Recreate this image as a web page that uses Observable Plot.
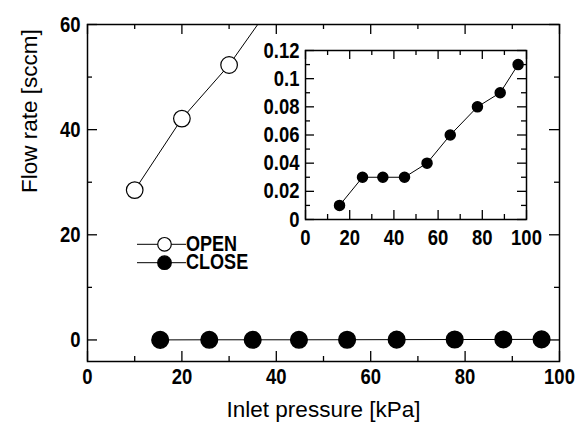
<!DOCTYPE html>
<html><head><meta charset="utf-8">
<script src="https://cdn.jsdelivr.net/npm/d3@7"></script>
<script src="https://cdn.jsdelivr.net/npm/@observablehq/plot@0.6"></script>
<style>
body{margin:0;background:#fff}
#wrap{position:relative;width:584px;height:428px}
#wrap svg{position:absolute;left:0;top:0}
</style></head><body><div id="wrap"></div>
<script>
// data
const pressureOpen = [10, 20, 30, 40];
const flowOpen = [28.5, 42.1, 52.3, 65];
const pressureClose = [15.4, 25.8, 35, 44.8, 55, 65.5, 77.8, 88.1, 96.2];
const flowClose = [0.01, 0.03, 0.03, 0.03, 0.04, 0.06, 0.08, 0.09, 0.11];
const xTicks = [0, 20, 40, 60, 80, 100];
const xMinor = [10, 30, 50, 70, 90];
const yTicks = [0, 20, 40, 60];
const yMinor = [10, 30, 50];
const insetYTicks = [0, 0.02, 0.04, 0.06, 0.08, 0.1, 0.12];
const insetYMinor = [0.01, 0.03, 0.05, 0.07, 0.09, 0.11];
const legendLabels = ["OPEN", "CLOSE"];
const xLabel = "Inlet pressure [kPa]";
const yLabel = "Flow rate [sccm]";

const openData = pressureOpen.map((x, i) => ({x, y: flowOpen[i]}));
const closeData = pressureClose.map((x, i) => ({x, y: flowClose[i]}));
const FONT = '"Liberation Sans",Arial,sans-serif';
const SQ = 0.84; // horizontal condensing of bold labels
const TF = 22;   // bold label font size

const W = 584, H = 428;
const m = {top: 24, right: 25, bottom: 67, left: 87};
const iw = W - m.left - m.right, ih = H - m.top - m.bottom;
const MJ = 10, MN = 5;

function ticks(xs, xm, ys, ym, iw, ih, MJ, MN) {
  return [
    Plot.ruleX(xs, {x: d => d, insetTop: ih - MJ, strokeWidth: 1.3}),
    Plot.ruleX(xs, {x: d => d, insetBottom: ih - MJ, strokeWidth: 1.3}),
    Plot.ruleX(xm, {x: d => d, insetTop: ih - MN, strokeWidth: 1.3}),
    Plot.ruleX(xm, {x: d => d, insetBottom: ih - MN, strokeWidth: 1.3}),
    Plot.ruleY(ys, {y: d => d, insetRight: iw - MJ, strokeWidth: 1.3}),
    Plot.ruleY(ys, {y: d => d, insetLeft: iw - MJ, strokeWidth: 1.3}),
    Plot.ruleY(ym, {y: d => d, insetRight: iw - MN, strokeWidth: 1.3}),
    Plot.ruleY(ym, {y: d => d, insetLeft: iw - MN, strokeWidth: 1.3})
  ];
}

const main = Plot.plot({
  width: W, height: H,
  marginTop: m.top, marginRight: m.right, marginBottom: m.bottom, marginLeft: m.left,
  style: {fontFamily: FONT, fontSize: TF + "px", fontWeight: "bold", background: "white", color: "black", overflow: "visible"},
  x: {domain: [0, 100]},
  y: {domain: [-4.1, 60]},
  marks: [
    ...ticks(xTicks, xMinor, yTicks, yMinor, iw, ih, MJ, MN),
    Plot.line(openData, {x: "x", y: "y", stroke: "black", strokeWidth: 1, clip: true}),
    Plot.dot(openData, {x: "x", y: "y", r: 8.3, fill: "white", stroke: "black", strokeWidth: 1.2, clip: true}),
    Plot.line(closeData, {x: "x", y: "y", stroke: "black", strokeWidth: 1}),
    Plot.dot(closeData, {x: "x", y: "y", r: 8.3, fill: "black", stroke: "black"}),
    Plot.frame({stroke: "black", strokeWidth: 1.5}),
    Plot.axisX(xTicks, {tickSize: 0, tickPadding: 7, label: null, fontSize: TF, fontWeight: "bold"}),
    Plot.axisY(yTicks, {tickSize: 0, tickPadding: 7, label: null, fontSize: TF, fontWeight: "bold"}),
    Plot.text([xLabel], {text: d => d, frameAnchor: "bottom", dy: 55, fontSize: 22.5, fontWeight: "normal"}),
    Plot.text([yLabel], {text: d => d, frameAnchor: "left", dx: -58, rotate: -90, fontSize: 22.5, fontWeight: "normal"})
  ]
});

const im = {top: 50, right: 58, bottom: 209, left: 305};
const iiw = W - im.left - im.right, iih = H - im.top - im.bottom;
const inset = Plot.plot({
  width: W, height: H,
  marginTop: im.top, marginRight: im.right, marginBottom: im.bottom, marginLeft: im.left,
  style: {fontFamily: FONT, fontSize: TF + "px", fontWeight: "bold", background: "transparent", color: "black", overflow: "visible"},
  x: {domain: [0, 100]},
  y: {domain: [0, 0.12]},
  marks: [
    Plot.frame({fill: "white"}),
    ...ticks(xTicks, xMinor, insetYTicks, insetYMinor, iiw, iih, 9, 5),
    Plot.line(closeData, {x: "x", y: "y", stroke: "black", strokeWidth: 1}),
    Plot.dot(closeData, {x: "x", y: "y", r: 5, fill: "black", stroke: "black"}),
    Plot.frame({stroke: "black", strokeWidth: 1.5}),
    Plot.axisX(xTicks, {tickSize: 0, tickPadding: 10, label: null, fontSize: TF, fontWeight: "bold"}),
    Plot.axisY(insetYTicks, {tickSize: 0, tickPadding: 6, label: null, fontSize: TF, fontWeight: "bold", tickFormat: d => String(d)})
  ]
});

function condense(svg, s) {
  svg.querySelectorAll('[aria-label$="tick label"] text').forEach(t => {
    const tr = t.getAttribute("transform") || "";
    const x = +t.getAttribute("x") || 0, y = +t.getAttribute("y") || 0;
    t.setAttribute("transform", `${tr} translate(${x},${y}) scale(${s},1) translate(${-x},${-y})`);
  });
}
condense(main, SQ);
condense(inset, SQ);

const wrap = document.getElementById("wrap");
wrap.appendChild(main);
wrap.appendChild(inset);

// legend
const ns = "http://www.w3.org/2000/svg";
const leg = document.createElementNS(ns, "svg");
leg.setAttribute("width", W); leg.setAttribute("height", H);
leg.style.pointerEvents = "none";
const rows = [{y: 244.3, fill: "white"}, {y: 262.7, fill: "black"}];
legendLabels.forEach((lab, i) => {
  const r = rows[i];
  const ln = document.createElementNS(ns, "line");
  ln.setAttribute("x1", 137); ln.setAttribute("x2", 186);
  ln.setAttribute("y1", r.y); ln.setAttribute("y2", r.y);
  ln.setAttribute("stroke", "black"); ln.setAttribute("stroke-width", 1);
  leg.appendChild(ln);
  const c = document.createElementNS(ns, "circle");
  c.setAttribute("cx", 164.5); c.setAttribute("cy", r.y); c.setAttribute("r", 6.8);
  c.setAttribute("fill", r.fill); c.setAttribute("stroke", "black"); c.setAttribute("stroke-width", 1.2);
  leg.appendChild(c);
  const t = document.createElementNS(ns, "text");
  t.setAttribute("transform", `translate(186,${r.y + 6.5}) scale(${SQ},1)`);
  t.setAttribute("font-family", FONT); t.setAttribute("font-size", 21.5); t.setAttribute("font-weight", "bold");
  t.textContent = lab;
  leg.appendChild(t);
});
wrap.appendChild(leg);
</script></body></html>
